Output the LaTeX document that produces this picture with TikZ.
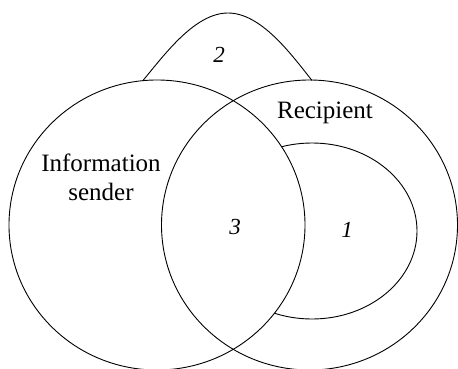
\documentclass[tikz,border=0pt]{standalone}
\usepackage{fontspec}
\setmainfont{Liberation Serif}
\begin{document}
\begin{tikzpicture}[x=1pt, y=1pt, every node/.style={font=\fontsize{25}{29}\selectfont}]
\tikzset{ring/.style={draw, line width=0.9pt}, num/.style={font=\fontsize{23}{27}\selectfont\itshape}}
\useasboundingbox (0,0) rectangle (458,368);
\clip (0,0) rectangle (458,368);
\coordinate (snd) at (157,143);
\coordinate (rcp) at (309.5,143);
\draw[ring] (snd) ellipse [x radius=148, y radius=145];
\draw[ring] (rcp) ellipse [x radius=148, y radius=145];
% area 1 sits inside the recipient, cut off by the sender
\begin{scope}
\clip (157,288) arc[start angle=90, end angle=-90, x radius=148, y radius=145] -- (458,-2) -- (458,368) -- (157,368) -- cycle;
\draw[ring] (312,137) ellipse [x radius=105, y radius=88];
\end{scope}
% area 2 on top
\draw[ring] (143,287.5) .. controls (165,314) and (195,355) .. (228,355) .. controls (261,355) and (291,314) .. (312,287.5);
\node[num] (two) at (219,313) {2};
\node (rlabel) at (325,255) {Recipient};
\node[align=center] (slabel) at (101,191) {Information\\sender};
\node[num] (three) at (235,141) {3};
\node[num] (one) at (347,138) {1};
\end{tikzpicture}
\end{document}
